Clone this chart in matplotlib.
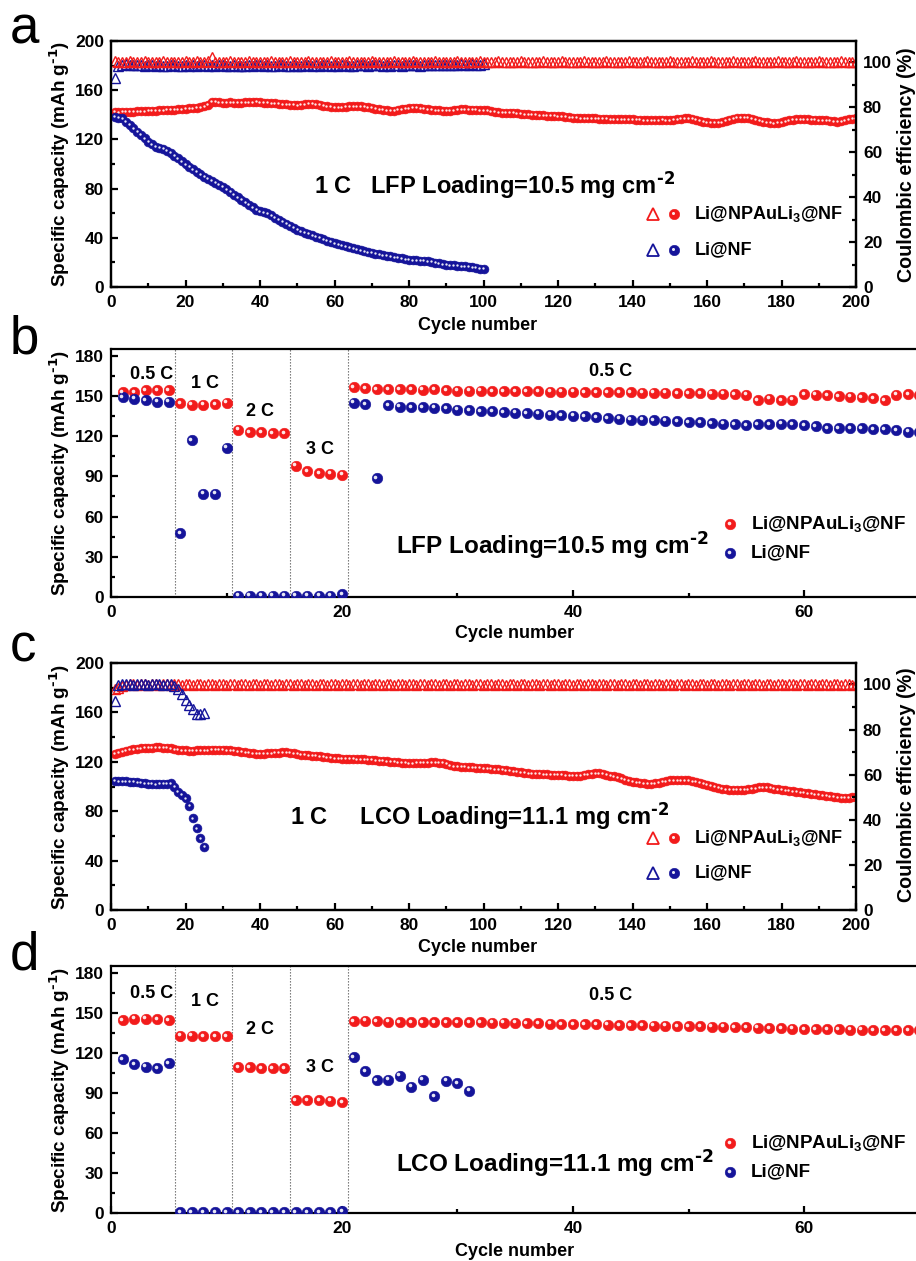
import numpy as np
import matplotlib
matplotlib.use('Agg')
import matplotlib.pyplot as plt
from matplotlib import transforms
from matplotlib.ticker import MultipleLocator

plt.rcParams['font.family'] = ['Liberation Sans', 'DejaVu Sans']
plt.rcParams['font.weight'] = 'bold'
plt.rcParams['mathtext.default'] = 'regular'
plt.rcParams['axes.linewidth'] = 1.6

# ---------------- data ----------------
# Panel a: LFP, 1 C cycling
a_red_cap = [
    142.4, 142.0, 142.3, 142.5, 142.6, 142.4, 142.8, 143.0, 142.9, 143.1,
    143.3, 143.2, 143.6, 143.8, 144.0, 143.9, 144.3, 144.5, 144.6, 145.0,
    145.2, 145.4, 145.8, 146.1, 146.8, 148.0, 150.8, 150.5, 150.2, 150.0,
    149.9, 150.1, 149.8, 149.9, 150.0, 150.2, 150.1, 150.3, 150.4, 150.3,
    150.0, 149.8, 149.5, 149.2, 149.0, 148.7, 148.4, 148.2, 148.0, 147.8,
    148.2, 148.6, 148.9, 149.0, 148.6, 148.0, 147.3, 146.8, 146.4, 146.0,
    146.0, 146.2, 146.5, 146.8, 147.0, 147.1, 147.0, 146.6, 146.0, 145.5,
    145.0, 144.4, 143.9, 143.5, 143.2, 143.4, 144.0, 144.6, 145.1, 145.4,
    145.7, 145.6, 145.3, 145.0, 144.6, 144.2, 143.8, 143.5, 143.3, 143.2,
    143.4, 143.8, 144.2, 144.6, 144.5, 144.3, 144.1, 143.9, 143.8, 143.8,
    143.5, 143.0, 142.5, 142.1, 141.8, 141.6, 141.5, 141.6, 141.4, 141.0,
    140.6, 140.3, 140.0, 139.8, 139.6, 139.5, 139.4, 139.2, 139.0, 138.9,
    138.7, 138.3, 138.0, 137.7, 137.5, 137.2, 137.0, 137.1, 137.0, 137.0,
    136.8, 136.7, 136.6, 136.5, 136.4, 136.5, 136.4, 136.3, 136.2, 136.2,
    136.0, 135.8, 135.6, 135.5, 135.5, 135.6, 135.7, 135.8, 135.7, 135.7,
    136.0, 136.4, 136.8, 137.0, 137.0, 136.6, 136.0, 135.2, 134.5, 134.0,
    133.7, 133.5, 133.5, 134.0, 135.0, 136.0, 136.8, 137.4, 137.8, 137.8,
    137.5, 136.8, 136.0, 135.2, 134.4, 133.8, 133.3, 133.0, 133.3, 134.0,
    134.8, 135.5, 136.0, 136.4, 136.5, 136.4, 136.2, 136.0, 135.8, 135.7,
    135.7, 135.7, 135.2, 134.6, 134.3, 134.8, 135.6, 136.3, 136.8, 137.0,
]
a_blue_cap = [
    138.5, 137.8, 137.0, 134.5, 131.8, 129.0, 126.2, 123.6, 120.8, 118.2,
    115.9, 114.2, 113.2, 112.3, 110.9, 109.0, 106.8, 104.6, 102.2, 99.9,
    97.8, 95.8, 93.7, 91.6, 89.7, 88.0, 86.4, 84.8, 83.2, 81.6,
    79.5, 77.3, 75.1, 72.9, 70.8, 68.8, 66.8, 64.9, 63.0, 61.4,
    60.6, 60.0, 58.3, 56.4, 54.6, 52.9, 51.2, 49.6, 48.0, 46.5,
    45.3, 44.2, 43.1, 42.0, 41.0, 39.9, 38.8, 37.7, 36.7, 35.7,
    34.8, 34.0, 33.2, 32.4, 31.6, 30.8, 30.0, 29.2, 28.4, 27.6,
    27.0, 26.5, 25.9, 25.4, 24.9, 24.3, 23.8, 23.2, 22.7, 22.2,
    21.9, 21.7, 21.4, 21.1, 20.8, 20.3, 19.7, 19.2, 18.6, 18.1,
    17.8, 17.5, 17.3, 17.0, 16.8, 16.4, 16.0, 15.5, 15.0, 14.6,
]
a_red_ce = [
    100.4, 100.1, 100.3, 100.2, 100.4, 100.2, 100.3, 100.1, 100.4, 100.2,
    100.3, 100.2, 100.1, 100.4, 100.3, 100.2, 100.3, 100.1, 100.2, 100.4,
    100.3, 100.2, 100.4, 100.1, 100.3, 100.5, 102.6, 100.3, 100.1, 100.3,
    100.2, 100.4, 100.3, 100.1, 100.2, 100.3, 100.4, 100.2, 100.1, 100.3,
    100.2, 100.3, 100.4, 100.2, 100.1, 100.3, 100.2, 100.4, 100.3, 100.1,
    100.2, 100.3, 100.4, 100.2, 100.3, 100.1, 100.2, 100.3, 100.4, 100.2,
    100.3, 100.1, 100.2, 100.4, 100.3, 100.2, 100.1, 100.3, 100.2, 100.4,
    100.3, 100.2, 100.1, 100.3, 100.2, 100.4, 100.3, 100.1, 100.2, 100.3,
    100.4, 100.2, 100.3, 100.1, 100.2, 100.3, 100.4, 100.2, 100.1, 100.3,
    100.2, 100.3, 100.4, 100.2, 100.3, 100.1, 100.2, 100.3, 100.4, 100.2,
    100.3, 100.1, 100.2, 100.4, 100.3, 100.2, 100.1, 100.3, 100.2, 100.4,
    100.3, 100.2, 100.1, 100.3, 100.2, 100.4, 100.3, 100.1, 100.2, 100.3,
    100.4, 100.2, 100.3, 100.1, 100.2, 100.3, 100.4, 100.2, 100.1, 100.3,
    100.2, 100.3, 100.4, 100.2, 100.3, 100.1, 100.2, 100.3, 100.4, 100.2,
    100.3, 100.1, 100.2, 100.4, 100.3, 100.2, 100.1, 100.3, 100.2, 100.4,
    100.3, 100.2, 100.1, 100.3, 100.2, 100.4, 100.3, 100.1, 100.2, 100.3,
    100.4, 100.2, 100.3, 100.1, 100.2, 100.3, 100.4, 100.2, 100.1, 100.3,
    100.2, 100.3, 100.4, 100.2, 100.3, 100.1, 100.2, 100.3, 100.4, 100.2,
    100.3, 100.1, 100.2, 100.4, 100.3, 100.2, 100.1, 100.3, 100.2, 100.4,
    100.3, 100.2, 100.1, 100.3, 100.2, 100.4, 100.3, 100.1, 100.2, 100.3,
]
a_blue_ce = [
    93.0, 98.4, 99.0, 99.2, 98.8, 98.6, 99.0, 98.7, 98.5, 98.9,
    98.6, 98.4, 98.8, 98.5, 98.3, 98.7, 98.6, 98.4, 98.2, 98.6,
    98.5, 98.8, 98.4, 98.6, 98.9, 98.5, 98.7, 98.4, 98.6, 98.8,
    98.5, 98.3, 98.6, 98.4, 98.2, 98.5, 98.7, 98.4, 98.6, 98.8,
    98.5, 98.7, 98.4, 98.3, 98.6, 98.8, 98.5, 98.4, 98.7, 98.5,
    98.3, 98.6, 98.8, 98.5, 98.7, 98.4, 98.6, 98.9, 98.5, 98.7,
    98.4, 98.6, 98.8, 98.5, 98.3, 98.7, 98.6, 98.8, 98.5, 98.7,
    98.9, 98.6, 98.4, 98.7, 98.5, 98.8, 98.6, 98.4, 98.7, 98.9,
    98.6, 98.8, 98.5, 98.7, 98.9, 98.6, 98.8, 99.0, 98.7, 98.9,
    98.6, 98.8, 99.0, 99.2, 98.8, 98.9, 99.1, 98.8, 99.0, 99.1,
]

# Panel b: LFP rate test
b_red_cap = [
    152.6, 153.0, 154.2, 154.3, 154.4,
    144.7, 143.4, 143.4, 143.8, 145.0,
    124.8, 122.8, 122.8, 122.4, 122.0,
    98.0, 94.0, 92.3, 92.1, 91.2,
    156.3, 155.6, 155.0, 155.0, 154.8, 155.0, 154.6, 154.8, 154.4, 154.0,
    153.9, 153.8, 153.6, 153.6, 153.5, 153.4, 153.4, 153.2, 153.2, 153.1,
    153.0, 152.9, 152.8, 152.8, 152.6, 152.5, 152.4, 152.3, 152.2, 152.1,
    151.9, 151.8, 151.6, 151.4, 150.8, 146.9, 148.0, 147.0, 147.1, 151.4,
    151.0, 150.6, 150.0, 149.3, 149.1, 148.2, 146.6, 151.0, 151.1, 151.0,
]
b_blue_cap = [
    148.9, 148.0, 147.0, 145.7, 145.7,
    47.4, 116.9, 77.0, 77.0, 111.4,
    1.0, 1.0, 1.0, 1.0, 1.0,
    1.0, 1.0, 1.0, 1.0, 2.0,
    145.0, 143.9, 88.8, 143.0, 142.0, 141.4, 141.4, 141.2, 140.9, 139.6,
    139.2, 138.8, 138.4, 137.8, 137.4, 137.0, 136.6, 136.0, 135.6, 135.2,
    134.7, 134.2, 133.6, 133.0, 132.4, 132.2, 131.8, 131.6, 131.0, 130.4,
    130.2, 129.7, 129.2, 128.9, 128.3, 128.7, 129.0, 129.4, 129.0, 128.2,
    127.2, 125.9, 126.0, 125.8, 125.7, 125.4, 125.0, 124.4, 123.4, 123.0,
]

# Panel c: LCO, 1 C cycling
c_red_cap = [
    126.5, 127.5, 128.3, 129.0, 129.7, 130.2, 130.6, 130.9, 131.2, 131.4,
    131.5, 131.6, 131.6, 131.5, 131.2, 130.8, 130.3, 129.8, 129.4, 129.2,
    129.1, 129.1, 129.2, 129.3, 129.4, 129.5, 129.6, 129.7, 129.7, 129.7,
    129.5, 129.2, 128.9, 128.5, 128.0, 127.6, 127.2, 126.9, 126.6, 126.5,
    126.6, 126.8, 127.0, 127.3, 127.5, 127.6, 127.6, 127.3, 126.8, 126.3,
    125.9, 125.6, 125.3, 125.1, 124.9, 124.6, 124.2, 123.8, 123.4, 123.0,
    122.8, 122.6, 122.5, 122.4, 122.3, 122.2, 122.1, 121.9, 121.8, 121.6,
    121.3, 121.0, 120.7, 120.4, 120.1, 119.8, 119.5, 119.3, 119.1, 118.9,
    118.9, 119.0, 119.1, 119.3, 119.4, 119.5, 119.5, 119.4, 119.0, 118.3,
    117.3, 116.5, 116.2, 116.0, 115.8, 115.6, 115.4, 115.2, 115.0, 114.9,
    114.7, 114.4, 114.1, 113.8, 113.5, 113.1, 112.7, 112.3, 111.8, 111.4,
    111.1, 110.8, 110.5, 110.3, 110.1, 109.9, 109.8, 109.7, 109.6, 109.5,
    109.3, 109.1, 108.9, 108.7, 108.6, 108.8, 109.3, 109.9, 110.5, 110.8,
    110.6, 110.1, 109.5, 108.8, 108.1, 107.3, 106.5, 105.6, 104.8, 104.0,
    103.5, 103.0, 102.6, 102.3, 102.2, 102.5, 103.1, 103.8, 104.4, 104.9,
    105.1, 105.2, 105.2, 105.1, 104.9, 104.4, 103.6, 102.8, 102.1, 101.4,
    100.6, 99.8, 99.0, 98.3, 97.8, 97.5, 97.3, 97.2, 97.2, 97.3,
    97.6, 98.1, 98.7, 99.2, 99.5, 99.3, 98.9, 98.3, 97.7, 97.3,
    97.0, 96.6, 96.2, 95.8, 95.4, 95.0, 94.6, 94.1, 93.7, 93.2,
    92.8, 92.4, 92.0, 91.5, 91.1, 90.9, 90.8, 91.0, 91.2, 91.4,
]
c_blue_cap = [
    104.6, 104.4, 104.3, 104.2, 104.0, 103.8, 103.5, 103.0, 102.6, 102.2,
    102.0, 101.9, 102.0, 102.1, 102.2, 102.7, 100.0, 95.9, 93.2, 90.5,
    84.3, 74.3, 66.2, 58.1, 51.4,
]
c_red_ce = [
    97.8, 98.5, 99.3, 99.9, 100.1, 100.0, 99.9, 100.1, 100.0, 99.9,
    100.1, 100.0, 99.9, 100.1, 100.0, 99.9, 100.1, 100.0, 99.9, 100.1,
    100.0, 99.9, 100.1, 100.0, 99.9, 100.1, 100.0, 99.9, 100.1, 100.0,
    99.9, 100.1, 100.0, 99.9, 100.1, 100.0, 99.9, 100.1, 100.0, 99.9,
    100.1, 100.0, 99.9, 100.1, 100.0, 99.9, 100.1, 100.0, 99.9, 100.1,
    100.0, 99.9, 100.1, 100.0, 99.9, 100.1, 100.0, 99.9, 100.1, 100.0,
    99.9, 100.1, 100.0, 99.9, 100.1, 100.0, 99.9, 100.1, 100.0, 99.9,
    100.1, 100.0, 99.9, 100.1, 100.0, 99.9, 100.1, 100.0, 99.9, 100.1,
    100.0, 99.9, 100.1, 100.0, 99.9, 100.1, 100.0, 99.9, 100.1, 100.0,
    99.9, 100.1, 100.0, 99.9, 100.1, 100.0, 99.9, 100.1, 100.0, 99.9,
    100.1, 100.0, 99.9, 100.1, 100.0, 99.9, 100.1, 100.0, 99.9, 100.1,
    100.0, 99.9, 100.1, 100.0, 99.9, 100.1, 100.0, 99.9, 100.1, 100.0,
    99.9, 100.1, 100.0, 99.9, 100.1, 100.0, 99.9, 100.1, 100.0, 99.9,
    100.1, 100.0, 99.9, 100.1, 100.0, 99.9, 100.1, 100.0, 99.9, 100.1,
    100.0, 99.9, 100.1, 100.0, 99.9, 100.1, 100.0, 99.9, 100.1, 100.0,
    99.9, 100.1, 100.0, 99.9, 100.1, 100.0, 99.9, 100.1, 100.0, 99.9,
    100.1, 100.0, 99.9, 100.1, 100.0, 99.9, 100.1, 100.0, 99.9, 100.1,
    100.0, 99.9, 100.1, 100.0, 99.9, 100.1, 100.0, 99.9, 100.1, 100.0,
    99.9, 100.1, 100.0, 99.9, 100.1, 100.0, 99.9, 100.1, 100.0, 99.9,
    100.1, 100.0, 99.9, 100.1, 100.0, 99.9, 100.1, 100.0, 99.9, 100.1,
]
c_blue_ce = [
    92.6, 99.8, 100.0, 100.1, 100.0, 99.9, 100.0, 100.1, 100.0, 99.9,
    100.0, 100.1, 100.0, 99.9, 100.0, 100.1, 99.3, 97.8, 95.9, 93.3,
    91.1, 88.9, 87.1, 86.7, 87.4,
]

# Panel d: LCO rate test
d_red_cap = [
    144.6, 145.6, 145.6, 145.0, 144.6,
    132.8, 132.8, 132.3, 132.3, 132.3,
    109.0, 109.0, 108.5, 108.5, 108.3,
    84.7, 84.7, 84.7, 84.0, 83.2,
    143.6, 143.9, 143.5, 143.4, 142.9, 142.9, 142.8, 142.8, 142.9, 142.9,
    142.8, 142.7, 142.6, 142.5, 142.4, 142.2, 142.0, 141.8, 141.6, 141.4,
    141.3, 141.2, 141.0, 140.8, 140.7, 140.6, 140.4, 140.3, 140.1, 139.9,
    139.8, 139.6, 139.4, 139.2, 139.0, 138.8, 138.6, 138.4, 138.1, 137.8,
    137.7, 137.6, 137.5, 137.4, 137.2, 137.1, 137.0, 136.9, 136.8, 136.7,
]
d_blue_cap = [
    115.3, 111.3, 109.5, 108.5, 112.0,
    0.5, 0.5, 0.5, 0.5, 0.5,
    0.5, 0.5, 0.5, 0.5, 0.5,
    0.5, 0.5, 0.5, 0.5, 1.5,
    116.5, 106.3, 99.5, 99.7, 102.8, 94.7, 99.7, 87.7, 99.2, 97.2,
    91.7,
]

rate_labels = ['0.5 C', '1 C', '2 C', '3 C', '0.5 C']
rate_bounds = [5.5, 10.5, 15.5, 20.5]

label_red = 'Li@NPAuLi$_3$@NF'
label_blue = 'Li@NF'

RED = '#f21b1b'
BLUE = '#15149a'

W, H = 916, 1261
fig = plt.figure(figsize=(W / 100, H / 100), dpi=100)


def fx(px):
    return px / W


def fy(py):
    return 1 - py / H


def sphere(ax, x, y, color, ms, hl_ms, off, z=3):
    ax.plot(x, y, 'o', ms=ms, mfc=color, mec=color, mew=0.4, ls='none', zorder=z)
    tr = transforms.offset_copy(ax.transData, fig=fig, x=-off, y=off, units='points')
    ax.plot(x, y, 'o', ms=hl_ms, mfc='white', mec='none', alpha=0.9, ls='none',
            transform=tr, zorder=z + 0.1)


def sphere_key(ax, xa, ya, color, ms, hl_ms, off):
    ax.plot([xa], [ya], 'o', ms=ms, mfc=color, mec=color, mew=0.4,
            transform=ax.transAxes, clip_on=False, zorder=6)
    tr = transforms.offset_copy(ax.transAxes, fig=fig, x=-off, y=off, units='points')
    ax.plot([xa], [ya], 'o', ms=hl_ms, mfc='white', mec='none', alpha=0.9,
            transform=tr, clip_on=False, zorder=6.1)


def style(ax, xmaj, xmin, ymaj, ymin):
    ax.xaxis.set_major_locator(MultipleLocator(xmaj))
    ax.xaxis.set_minor_locator(MultipleLocator(xmin))
    ax.yaxis.set_major_locator(MultipleLocator(ymaj))
    ax.yaxis.set_minor_locator(MultipleLocator(ymin))
    ax.tick_params(which='both', direction='in', top=False, right=False,
                   width=1.6, labelsize=12.5)
    ax.tick_params(which='major', length=5)
    ax.tick_params(which='minor', length=3)
    ax.tick_params(axis='x', pad=6)
    ax.tick_params(axis='y', pad=5)


def ce_axis(ax):
    ax2 = ax.twinx()
    ax2.set_ylim(0, 109.5)
    ax2.yaxis.set_major_locator(MultipleLocator(20))
    ax2.yaxis.set_minor_locator(MultipleLocator(10))
    ax2.tick_params(which='both', direction='in', width=1.6, labelsize=12.5, pad=5)
    ax2.tick_params(which='major', length=5)
    ax2.tick_params(which='minor', length=3)
    return ax2


def panel_letter(txt, x, y):
    fig.text(fx(x), fy(y), txt, fontsize=38, fontweight='normal',
             ha='left', va='baseline')


ylab = r'Specific capacity (mAh g$^{\text{-1}}$)'
sup2 = r'$^{\text{-2}}$'
YLAB_FS = 13.6
CE_FS = 14.2

# ---------------- panel a ----------------
a_top, a_bot = 41, 287
axa = fig.add_axes([fx(111), fy(a_bot), fx(856 - 111), (a_bot - a_top) / H])
axa.set_xlim(0, 200)
axa.set_ylim(0, 200)
style(axa, 20, 10, 40, 20)
cyc_a_red = np.arange(1, len(a_red_cap) + 1)
cyc_a_blue = np.arange(1, len(a_blue_cap) + 1)
sphere(axa, cyc_a_red, a_red_cap, RED, 6.4, 1.7, 0.4)
sphere(axa, cyc_a_blue, a_blue_cap, BLUE, 6.4, 1.7, 0.4, z=3.5)
axa2 = ce_axis(axa)
axa2.plot(cyc_a_blue, a_blue_ce, '^', ms=6.5, mfc='none', mec=BLUE, mew=1.0, ls='none')
axa2.plot(cyc_a_red, a_red_ce, '^', ms=6.5, mfc='none', mec=RED, mew=1.0, ls='none')
axa.text(0.272, 0.415, '1 C   LFP Loading=10.5 mg cm' + sup2, transform=axa.transAxes,
         fontsize=17, ha='left', va='center')
for yk, col, lab in [(0.296, RED, label_red), (0.150, BLUE, label_blue)]:
    axa.plot([0.728], [yk], '^', ms=8, mfc='none', mec=col, mew=1.3,
             transform=axa.transAxes, clip_on=False)
    sphere_key(axa, 0.756, yk, col, 7.5, 2.2, 0.8)
    axa.text(0.783, yk, lab, transform=axa.transAxes, fontsize=13, ha='left', va='center')
fig.text(fx(60), fy((a_top + a_bot) / 2), ylab, rotation=90, ha='center', va='center', fontsize=YLAB_FS)
fig.text(fx(906), fy(165), 'Coulombic efficiency (%)', rotation=90, ha='center', va='center', fontsize=CE_FS)
fig.text(fx(478), fy(325), 'Cycle number', ha='center', va='center', fontsize=13)
panel_letter('a', 10, 43)

# ---------------- panel b & d (rate tests) ----------------
RATE_XMAX = 72
PX_PER_CYCLE = 11.55


def rate_panel(top, bot, red, blue, ann, ann_y, rate_pos, leg_y):
    wpx = RATE_XMAX * PX_PER_CYCLE
    ax = fig.add_axes([fx(111), fy(bot), fx(wpx), (bot - top) / H])
    ax.set_xlim(0, RATE_XMAX)
    ax.set_ylim(0, 185)
    style(ax, 20, 10, 30, 15)
    for xb in rate_bounds:
        ax.axvline(xb, color='#666666', lw=0.8, ls=(0, (1.2, 1.5)), zorder=1)
    sphere(ax, np.arange(1, len(red) + 1), red, RED, 7.6, 2.6, 1.0)
    sphere(ax, np.arange(1, len(blue) + 1), blue, BLUE, 7.6, 2.6, 1.0)
    for (lx, ly), lab in zip(rate_pos, rate_labels):
        fig.text(fx(lx), fy(ly), lab, ha='center', va='center', fontsize=13)
    fig.text(fx(396), fy(ann_y), ann, ha='left', va='center', fontsize=17.5)
    for dy, col, lab in [(0, RED, label_red), (29, BLUE, label_blue)]:
        fig.text(fx(751), fy(leg_y + dy), lab, ha='left', va='center', fontsize=13.5)
        sphere_key(ax, (730 - 111) / wpx, (bot - leg_y - dy) / (bot - top),
                   col, 7.6, 2.6, 1.0)
    fig.text(fx(60), fy((top + bot) / 2), ylab, rotation=90, ha='center', va='center', fontsize=YLAB_FS)
    return ax


b_top, b_bot = 349, 597
rate_panel(b_top, b_bot, b_red_cap, b_blue_cap, 'LFP Loading=10.5 mg cm' + sup2, 545,
           [(152, 374), (205, 384), (260, 412), (320, 449), (611, 371)], 524)
fig.text(fx(515), fy(634), 'Cycle number', ha='center', va='center', fontsize=13)
panel_letter('b', 10, 353)

# ---------------- panel c ----------------
c_top, c_bot = 663, 910
axc = fig.add_axes([fx(111), fy(c_bot), fx(856 - 111), (c_bot - c_top) / H])
axc.set_xlim(0, 200)
axc.set_ylim(0, 200)
style(axc, 20, 10, 40, 20)
cyc_c_red = np.arange(1, len(c_red_cap) + 1)
cyc_c_blue = np.arange(1, len(c_blue_cap) + 1)
sphere(axc, cyc_c_red, c_red_cap, RED, 6.4, 1.7, 0.4)
sphere(axc, cyc_c_blue, c_blue_cap, BLUE, 6.4, 1.7, 0.4, z=3.5)
axc2 = ce_axis(axc)
axc2.plot(cyc_c_red, c_red_ce, '^', ms=6.5, mfc='none', mec=RED, mew=1.0, ls='none')
axc2.plot(cyc_c_blue, c_blue_ce, '^', ms=7, mfc='none', mec=BLUE, mew=1.0, ls='none')
axc.text(0.24, 0.38, '1 C     LCO Loading=11.1 mg cm' + sup2, transform=axc.transAxes,
         fontsize=17, ha='left', va='center')
for yk, col, lab in [(0.291, RED, label_red), (0.150, BLUE, label_blue)]:
    axc.plot([0.728], [yk], '^', ms=8, mfc='none', mec=col, mew=1.3,
             transform=axc.transAxes, clip_on=False)
    sphere_key(axc, 0.756, yk, col, 7.5, 2.2, 0.8)
    axc.text(0.783, yk, lab, transform=axc.transAxes, fontsize=13, ha='left', va='center')
fig.text(fx(60), fy((c_top + c_bot) / 2), ylab, rotation=90, ha='center', va='center', fontsize=YLAB_FS)
fig.text(fx(906), fy(785), 'Coulombic efficiency (%)', rotation=90, ha='center', va='center', fontsize=CE_FS)
fig.text(fx(478), fy(947), 'Cycle number', ha='center', va='center', fontsize=13)
panel_letter('c', 10, 662)

# ---------------- panel d ----------------
d_top, d_bot = 966, 1213
rate_panel(d_top, d_bot, d_red_cap, d_blue_cap, 'LCO Loading=11.1 mg cm' + sup2, 1163,
           [(152, 993), (205, 1002), (260, 1030), (320, 1067), (611, 996)], 1143)
fig.text(fx(515), fy(1251), 'Cycle number', ha='center', va='center', fontsize=13)
panel_letter('d', 10, 970)

fig.savefig('out.png', dpi=100)
